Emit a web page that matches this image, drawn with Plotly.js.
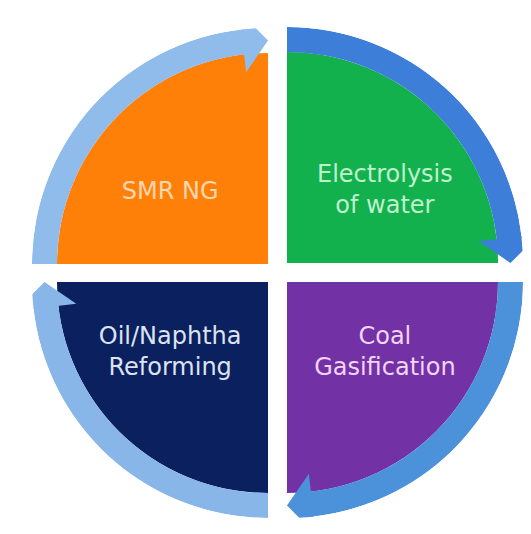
<!DOCTYPE html>
<html>
<head>
<meta charset="utf-8">
<script src="https://cdn.plot.ly/plotly-3.0.1.min.js"></script>
<style>html,body{margin:0;padding:0;background:#fff}</style>
</head>
<body>
<div id="chart" style="width:531px;height:534px"></div>
<script>
// ---- data (cycle of hydrogen production routes, clockwise from top-left) ----
const categories = ['SMR NG', 'Electrolysis of water', 'Coal Gasification', 'Oil/Naphtha Reforming'];
const labelLines = [['SMR NG'], ['Electrolysis', 'of water'], ['Coal', 'Gasification'], ['Oil/Naphtha', 'Reforming']];
const shares = [1, 1, 1, 1]; // each route gets an equal quarter of the cycle

// ---- styling ----
const fillColors  = ['#FF8008', '#13B14E', '#7331A6', '#0B205E'];
const ringColors  = ['#8FBCEB', '#3C7ED8', '#4B92DB', '#88B6E8'];
const textColors  = ['#FFD6AE', '#BDF2CD', '#F2D4F6', '#DCE3F2'];

// ---- geometry (pixels) ----
const W = 531, H = 534;
const R = 236;           // outer radius of each quarter (incl. ring)
const rFill = 211;       // radius of coloured quarter
const ringW = 25;        // ring thickness
const headLen = 6.5;     // arrowhead length (deg)
const headOut = 18;      // arrowhead wing overhang (px in r)
const labelR = 121, labelAng = 36;
// quarter corners (the circle centre split by white gaps)
const corners = [[268, 264], [287, 263], [287, 282], [268, 282]];
const sectors = [[90, 180], [0, 90], [270, 360], [180, 270]];
const dirs = [[-1, -1], [1, -1], [1, 1], [-1, 1]];

const data = [];
const layout = {
  width: W, height: H,
  margin: {l: 0, r: 0, t: 0, b: 0},
  paper_bgcolor: '#fff',
  showlegend: false
};

categories.forEach((cat, i) => {
  const key = i === 0 ? 'polar' : 'polar' + (i + 1);
  const [cx, cy] = corners[i];
  const [dx, dy] = dirs[i];
  const x0 = Math.min(cx, cx + dx * R), x1 = Math.max(cx, cx + dx * R);
  const y0 = Math.min(cy, cy + dy * R), y1 = Math.max(cy, cy + dy * R);
  layout[key] = {
    domain: {x: [x0 / W, x1 / W], y: [1 - y1 / H, 1 - y0 / H]},
    sector: sectors[i],
    hole: 0,
    bargap: 0,
    bgcolor: 'rgba(0,0,0,0)',
    radialaxis: {visible: false, range: [0, R]},
    angularaxis: {visible: false}
  };
  const s0 = sectors[i][0], s1 = sectors[i][1];
  const span = 90 * shares[i];
  // coloured quarter
  data.push({
    type: 'barpolar', subplot: key,
    r: [rFill], theta: [(s0 + s1) / 2], width: [span],
    marker: {color: fillColors[i], line: {width: 0}},
    hoverinfo: 'skip'
  });
  // ring (arrow body), stopping where the head begins
  const ringStart = s0 + headLen - 0.5;
  data.push({
    type: 'barpolar', subplot: key,
    r: [ringW], base: [rFill], theta: [(ringStart + s1) / 2], width: [s1 - ringStart],
    marker: {color: ringColors[i], line: {width: 0}},
    hoverinfo: 'skip'
  });
  // arrowhead (points clockwise, tip at the sector's leading edge)
  const rMid = rFill + ringW / 2;
  data.push({
    type: 'scatterpolar', subplot: key, mode: 'lines', fill: 'toself',
    r: [rFill - headOut, rFill + ringW + headOut, rMid, rFill - headOut],
    theta: [s0 + headLen, s0 + headLen, s0, s0 + headLen],
    fillcolor: ringColors[i], line: {width: 0, color: ringColors[i]},
    cliponaxis: false, hoverinfo: 'skip'
  });
  // label
  const horiz = (dx > 0) ? 0 : 180;
  const ang = horiz + (dx * dy < 0 ? 1 : -1) * labelAng;
  data.push({
    type: 'scatterpolar', subplot: key, mode: 'text',
    r: [labelR], theta: [ang], text: [labelLines[i].join('<br>')],
    textposition: 'middle center',
    textfont: {family: 'DejaVu Sans, Arial, sans-serif', size: 24, color: textColors[i]},
    cliponaxis: false, hoverinfo: 'skip'
  });
});

Plotly.newPlot('chart', data, layout, {displayModeBar: false, staticPlot: true});
</script>
</body>
</html>
